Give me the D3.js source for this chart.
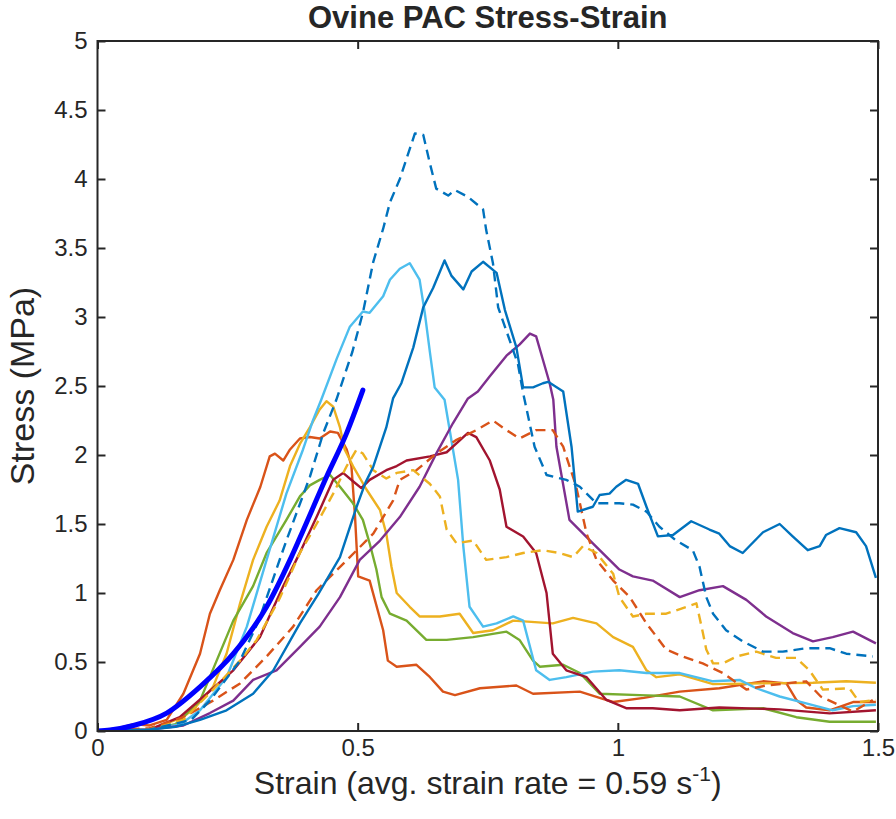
<!DOCTYPE html>
<html>
<head>
<meta charset="utf-8">
<script src="https://cdn.jsdelivr.net/npm/d3@7"></script>
<style>
  html, body { margin: 0; padding: 0; background: #fff; }
  svg { display: block; }
  text { font-family: "Liberation Sans", Arial, Helvetica, sans-serif; fill: #262626; }
</style>
</head>
<body>
<svg id="chart" width="896" height="819"></svg>
<script>
// ---- Data (strain, stress in MPa) ----
const xTicks = [0, 0.5, 1, 1.5];
const xTickLabels = ["0", "0.5", "1", "1.5"];
const yTicks = [0, 0.5, 1, 1.5, 2, 2.5, 3, 3.5, 4, 4.5, 5];
const yTickLabels = ["0", "0.5", "1", "1.5", "2", "2.5", "3", "3.5", "4", "4.5", "5"];

const blueSolid = [[0,0],[0.1,0.01],[0.15,0.03],[0.197,0.08],[0.248,0.15],[0.299,0.27],[0.338,0.44],[0.389,0.78],[0.424,0.99],[0.466,1.26],[0.498,1.625],[0.515,1.8],[0.53,1.915],[0.555,2.2],[0.568,2.41],[0.584,2.52],[0.607,2.78],[0.626,3.07],[0.645,3.21],[0.667,3.41],[0.68,3.30],[0.703,3.20],[0.719,3.33],[0.741,3.40],[0.767,3.32],[0.783,3.05],[0.805,2.78],[0.818,2.49],[0.837,2.49],[0.856,2.52],[0.866,2.53],[0.895,2.46],[0.911,2.06],[0.923,1.59],[0.952,1.625],[0.965,1.71],[0.984,1.72],[0.997,1.77],[1.016,1.82],[1.039,1.79],[1.055,1.625],[1.077,1.41],[1.106,1.42],[1.141,1.52],[1.176,1.46],[1.195,1.43],[1.215,1.34],[1.24,1.29],[1.279,1.44],[1.311,1.50],[1.336,1.41],[1.365,1.31],[1.388,1.34],[1.40,1.42],[1.426,1.47],[1.458,1.44],[1.477,1.34],[1.496,1.11]];

const blueDashed = [[0,0],[0.1,0.01],[0.18,0.08],[0.216,0.22],[0.274,0.51],[0.31,0.8],[0.35,1.24],[0.363,1.38],[0.408,1.84],[0.434,2.16],[0.459,2.40],[0.49,2.75],[0.51,3.03],[0.53,3.4],[0.549,3.64],[0.562,3.83],[0.581,4.0],[0.61,4.33],[0.626,4.32],[0.639,4.11],[0.651,3.93],[0.674,3.88],[0.687,3.92],[0.712,3.87],[0.741,3.78],[0.747,3.63],[0.76,3.39],[0.77,3.07],[0.808,2.66],[0.818,2.45],[0.84,2.06],[0.863,1.855],[0.901,1.82],[0.927,1.77],[0.959,1.65],[1.003,1.65],[1.029,1.64],[1.055,1.59],[1.08,1.48],[1.112,1.38],[1.144,1.31],[1.157,1.19],[1.17,0.97],[1.183,0.85],[1.208,0.73],[1.24,0.65],[1.279,0.575],[1.317,0.575],[1.362,0.60],[1.407,0.60],[1.439,0.56],[1.49,0.54]];

const lightBlue = [[0,0],[0.1,0.01],[0.16,0.05],[0.197,0.15],[0.248,0.39],[0.287,0.756],[0.325,1.24],[0.363,1.72],[0.395,2.04],[0.414,2.25],[0.43,2.40],[0.46,2.7],[0.485,2.93],[0.51,3.04],[0.523,3.03],[0.549,3.15],[0.562,3.27],[0.581,3.35],[0.6,3.39],[0.619,3.27],[0.629,3.03],[0.639,2.74],[0.648,2.49],[0.667,2.40],[0.68,2.11],[0.693,1.82],[0.703,1.34],[0.715,0.90],[0.741,0.756],[0.767,0.78],[0.799,0.83],[0.818,0.80],[0.843,0.44],[0.869,0.37],[0.901,0.39],[0.952,0.43],[1.003,0.44],[1.055,0.42],[1.119,0.42],[1.183,0.36],[1.234,0.37],[1.266,0.31],[1.311,0.25],[1.362,0.20],[1.413,0.15],[1.452,0.18],[1.496,0.19]];

const purple = [[0,0],[0.1,0.01],[0.165,0.04],[0.216,0.13],[0.261,0.22],[0.299,0.37],[0.344,0.44],[0.389,0.61],[0.427,0.756],[0.466,0.97],[0.504,1.24],[0.543,1.38],[0.581,1.55],[0.619,1.77],[0.651,2.01],[0.683,2.23],[0.712,2.41],[0.731,2.46],[0.754,2.57],[0.786,2.72],[0.811,2.80],[0.831,2.88],[0.843,2.86],[0.856,2.69],[0.869,2.52],[0.876,2.40],[0.882,2.06],[0.907,1.53],[0.952,1.36],[1.003,1.17],[1.029,1.12],[1.067,1.09],[1.119,0.97],[1.157,1.02],[1.202,1.05],[1.247,0.95],[1.285,0.83],[1.336,0.71],[1.375,0.65],[1.413,0.68],[1.452,0.72],[1.496,0.635]];

const orangeSolid = [[0,0],[0.04,0.02],[0.07,0.05],[0.1,0.04],[0.133,0.08],[0.165,0.27],[0.197,0.56],[0.216,0.85],[0.235,1.02],[0.261,1.24],[0.287,1.53],[0.313,1.77],[0.331,1.99],[0.341,2.01],[0.357,1.96],[0.37,2.04],[0.389,2.12],[0.408,2.13],[0.427,2.12],[0.447,2.17],[0.462,2.16],[0.479,2.04],[0.488,1.92],[0.495,1.55],[0.501,1.12],[0.523,1.09],[0.549,0.73],[0.558,0.51],[0.575,0.466],[0.613,0.48],[0.639,0.39],[0.664,0.285],[0.687,0.26],[0.735,0.31],[0.805,0.33],[0.837,0.27],[0.927,0.285],[0.965,0.24],[0.991,0.21],[1.05,0.24],[1.119,0.285],[1.195,0.31],[1.279,0.36],[1.324,0.345],[1.343,0.225],[1.362,0.17],[1.407,0.15],[1.452,0.21],[1.496,0.21]];

const orangeDashed = [[0,0],[0.1,0.02],[0.165,0.10],[0.222,0.22],[0.274,0.345],[0.325,0.54],[0.376,0.756],[0.421,1.02],[0.485,1.26],[0.53,1.43],[0.568,1.67],[0.581,1.82],[0.613,1.89],[0.651,2.01],[0.69,2.11],[0.728,2.18],[0.76,2.25],[0.786,2.18],[0.811,2.12],[0.843,2.18],[0.875,2.18],[0.895,2.06],[0.92,1.77],[0.94,1.43],[0.959,1.24],[0.991,1.09],[1.023,0.97],[1.055,0.78],[1.093,0.59],[1.125,0.54],[1.163,0.49],[1.202,0.42],[1.247,0.30],[1.285,0.33],[1.362,0.36],[1.39,0.25],[1.452,0.14],[1.49,0.225]];

const yellowSolid = [[0,0],[0.1,0.01],[0.165,0.10],[0.19,0.18],[0.222,0.32],[0.248,0.56],[0.274,0.925],[0.299,1.24],[0.325,1.48],[0.35,1.67],[0.37,1.92],[0.389,2.08],[0.408,2.20],[0.427,2.33],[0.44,2.39],[0.453,2.35],[0.466,2.20],[0.475,2.04],[0.491,1.92],[0.517,1.75],[0.543,1.60],[0.555,1.43],[0.565,1.19],[0.575,1.0],[0.60,0.90],[0.619,0.83],[0.658,0.83],[0.696,0.85],[0.722,0.71],[0.76,0.73],[0.799,0.80],[0.875,0.78],[0.914,0.82],[0.959,0.78],[0.991,0.68],[1.029,0.61],[1.055,0.44],[1.074,0.39],[1.119,0.41],[1.183,0.34],[1.279,0.345],[1.375,0.35],[1.439,0.36],[1.496,0.35]];

const yellowDashed = [[0,0],[0.1,0.01],[0.165,0.08],[0.222,0.30],[0.274,0.51],[0.306,0.66],[0.35,0.96],[0.389,1.29],[0.421,1.50],[0.453,1.72],[0.479,1.92],[0.498,2.04],[0.51,2.01],[0.53,1.89],[0.555,1.83],[0.575,1.87],[0.607,1.89],[0.639,1.79],[0.658,1.70],[0.671,1.46],[0.69,1.36],[0.722,1.38],[0.747,1.24],[0.786,1.26],[0.818,1.29],[0.856,1.31],[0.888,1.29],[0.914,1.26],[0.933,1.34],[0.959,1.29],[0.991,1.14],[1.003,0.97],[1.029,0.83],[1.055,0.85],[1.093,0.85],[1.132,0.90],[1.151,0.925],[1.163,0.72],[1.17,0.59],[1.183,0.49],[1.202,0.49],[1.228,0.54],[1.266,0.575],[1.304,0.53],[1.343,0.53],[1.368,0.44],[1.394,0.30],[1.445,0.31],[1.464,0.21],[1.496,0.225]];

const green = [[0,0],[0.1,0.01],[0.15,0.05],[0.197,0.22],[0.229,0.51],[0.261,0.80],[0.299,1.05],[0.325,1.29],[0.363,1.53],[0.389,1.70],[0.408,1.78],[0.427,1.82],[0.447,1.855],[0.466,1.77],[0.491,1.65],[0.51,1.53],[0.523,1.36],[0.536,1.17],[0.546,0.97],[0.562,0.85],[0.594,0.80],[0.632,0.66],[0.671,0.66],[0.722,0.68],[0.786,0.72],[0.811,0.66],[0.837,0.51],[0.85,0.466],[0.895,0.48],[0.927,0.42],[0.965,0.27],[1.042,0.26],[1.119,0.25],[1.183,0.15],[1.279,0.165],[1.343,0.10],[1.407,0.067],[1.496,0.067]];

const darkRed = [[0,0],[0.1,0.01],[0.158,0.10],[0.21,0.27],[0.261,0.44],[0.312,0.68],[0.357,1.05],[0.39,1.3],[0.421,1.55],[0.453,1.82],[0.472,1.87],[0.491,1.81],[0.507,1.76],[0.523,1.82],[0.555,1.89],[0.575,1.92],[0.594,1.96],[0.639,1.99],[0.671,2.02],[0.712,2.16],[0.728,2.13],[0.754,1.96],[0.773,1.75],[0.786,1.48],[0.818,1.41],[0.843,1.29],[0.863,1.0],[0.875,0.56],[0.901,0.44],[0.94,0.39],[0.978,0.225],[1.016,0.165],[1.067,0.165],[1.119,0.15],[1.195,0.17],[1.311,0.157],[1.407,0.128],[1.496,0.15]];

const fitCurve = [[0,0],[0.024,0.007],[0.069,0.04],[0.133,0.13],[0.197,0.32],[0.261,0.56],[0.325,0.90],[0.37,1.24],[0.389,1.40],[0.44,1.84],[0.479,2.16],[0.51,2.47]];

const series = [
  {data: orangeSolid,  color: "#D95319", dash: null},
  {data: yellowSolid,  color: "#EDB120", dash: null},
  {data: green,        color: "#77AC30", dash: null},
  {data: lightBlue,    color: "#4DBEEE", dash: null},
  {data: darkRed,      color: "#A2142F", dash: null},
  {data: purple,       color: "#7E2F8E", dash: null},
  {data: orangeDashed, color: "#D95319", dash: "10,6"},
  {data: yellowDashed, color: "#EDB120", dash: "10,6"},
  {data: blueSolid,    color: "#0072BD", dash: null},
  {data: blueDashed,   color: "#0072BD", dash: "10,6"}
];

// ---- Layout ----
const svg = d3.select("#chart");
const L = 97.5, T = 41, R = 878, B = 731;
const x = d3.scaleLinear().domain([0, 1.5]).range([L, R]);
const y = d3.scaleLinear().domain([0, 5]).range([B, T]);

svg.append("defs").append("clipPath").attr("id", "clip")
  .append("rect").attr("x", L).attr("y", T).attr("width", R - L).attr("height", B - T);

const line = d3.line().x(d => x(d[0])).y(d => y(d[1]));
const g = svg.append("g").attr("clip-path", "url(#clip)");

series.forEach(s => {
  g.append("path").datum(s.data)
    .attr("d", line)
    .attr("fill", "none")
    .attr("stroke", s.color)
    .attr("stroke-width", 2.4)
    .attr("stroke-linejoin", "round")
    .attr("stroke-dasharray", s.dash);
});

g.append("path").datum(fitCurve)
  .attr("d", d3.line().x(d => x(d[0])).y(d => y(d[1])).curve(d3.curveMonotoneX))
  .attr("fill", "none")
  .attr("stroke", "#0000FF")
  .attr("stroke-width", 5)
  .attr("stroke-linecap", "round");

// ---- Axes (box with inward ticks) ----
const tickLen = 8;
const axG = svg.append("g").attr("stroke", "#262626").attr("stroke-width", 2);
axG.append("rect").attr("x", L).attr("y", T).attr("width", R - L).attr("height", B - T).attr("fill", "none");

const xb = d3.axisBottom(x).tickValues(xTicks).tickSize(-tickLen).tickFormat((d, i) => xTickLabels[i]).tickPadding(8);
const xt = d3.axisTop(x).tickValues(xTicks).tickSize(-tickLen).tickFormat("");
const yl = d3.axisLeft(y).tickValues(yTicks).tickSize(-tickLen).tickFormat((d, i) => yTickLabels[i]).tickPadding(10);
const yr = d3.axisRight(y).tickValues(yTicks).tickSize(-tickLen).tickFormat("");

function style(sel) {
  sel.select(".domain").remove();
  sel.selectAll(".tick line").attr("stroke", "#262626").attr("stroke-width", 2);
  sel.selectAll(".tick text").attr("fill", "#262626").style("font-size", "24px")
     .style("font-family", '"Liberation Sans", Arial, sans-serif');
}
svg.append("g").attr("transform", `translate(0,${B})`).call(xb).call(style);
svg.append("g").attr("transform", `translate(0,${T})`).call(xt).call(style);
svg.append("g").attr("transform", `translate(${L},0)`).call(yl).call(style);
svg.append("g").attr("transform", `translate(${R},0)`).call(yr).call(style);

// ---- Text ----
svg.append("text").attr("x", (L + R) / 2).attr("y", 28)
  .attr("text-anchor", "middle").style("font-size", "31px").style("font-weight", "bold")
  .attr("fill", "#000").text("Ovine PAC Stress-Strain");

const xl = svg.append("text").attr("x", (L + R) / 2).attr("y", 794)
  .attr("text-anchor", "middle").style("font-size", "32px");
xl.append("tspan").text("Strain (avg. strain rate = 0.59 s");
xl.append("tspan").attr("dy", -13).style("font-size", "21px").text("-1");
xl.append("tspan").attr("dy", 13).text(")");

svg.append("text").attr("transform", `translate(34,${(T + B) / 2}) rotate(-90)`)
  .attr("text-anchor", "middle").style("font-size", "34px").text("Stress (MPa)");
</script>
</body>
</html>
